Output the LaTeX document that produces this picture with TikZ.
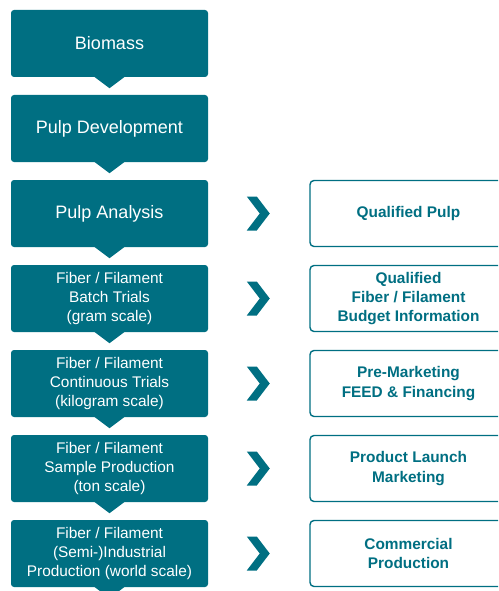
\documentclass[tikz,border=0pt]{standalone}
\usepackage{fontspec}
\setmainfont{Liberation Sans}
\usetikzlibrary{calc}
\definecolor{teal1}{RGB}{0,111,130}
\begin{document}
\begin{tikzpicture}[x=1pt,y=-1pt,
  stepbox/.style={fill=teal1, rounded corners=3pt, minimum width=197pt, minimum height=67pt, inner sep=0pt, text=white, align=center, font=\fontsize{15.4}{19.3}\selectfont},
  bigtext/.style={font=\fontsize{18}{21}\selectfont},
  resbox/.style={draw=teal1, line width=1.4pt, rounded corners=4pt, fill=white, minimum width=197pt, minimum height=66pt, inner sep=0pt, text=teal1, align=center, font=\bfseries\fontsize{15.4}{19.3}\selectfont},
  chev/.style={fill=teal1}]
\useasboundingbox (0,0) rectangle (498,591);
\begin{scope}
\clip (0,0) rectangle (498,591);
% left step boxes
\node[stepbox,bigtext] (s1) at (109.5,43.5) {Biomass};
\node[stepbox,bigtext] (s2) at (109.5,128.5) {Pulp Development};
\node[stepbox,bigtext] (s3) at (109.5,213.5) {Pulp Analysis};
\node[stepbox] (s4) at (109.5,298.5) {Fiber / Filament\\Batch Trials\\(gram scale)};
\node[stepbox] (s5) at (109.5,383.5) {Fiber / Filament\\Continuous Trials\\(kilogram scale)};
\node[stepbox] (s6) at (109.5,468.5) {Fiber / Filament\\Sample Production\\(ton scale)};
\node[stepbox] (s7) at (109.5,553.5) {Fiber / Filament\\(Semi-)Industrial\\Production (world scale)};
% pointers
\foreach \n in {s1,s2,s3,s4,s5,s6,s7}{
  \fill[teal1] ([xshift=-16pt,yshift=1pt]\n.south) -- ([xshift=16pt,yshift=1pt]\n.south) -- ([yshift=-11pt]\n.south) -- cycle;
}
% result boxes
\node[resbox] (r3) at (408.5,213.5) {Qualified Pulp};
\node[resbox] (r4) at (408.5,298.5) {Qualified\\Fiber / Filament\\Budget Information};
\node[resbox] (r5) at (408.5,383.5) {Pre-Marketing\\FEED \& Financing};
\node[resbox] (r6) at (408.5,468.5) {Product Launch\\Marketing};
\node[resbox] (r7) at (408.5,553.5) {Commercial\\Production};
% chevrons
\foreach \n in {3,4,5,6,7}{
  \coordinate (c\n) at ($(s\n.east)!0.5!(r\n.west)$);
  \fill[chev] ($(c\n)+(-12,-17)$) -- ($(c\n)+(-2,-17)$) -- ($(c\n)+(11,0)$) -- ($(c\n)+(-2,17)$) -- ($(c\n)+(-12,17)$) -- ($(c\n)+(1,0)$) -- cycle;
}
\end{scope}
\end{tikzpicture}
\end{document}
